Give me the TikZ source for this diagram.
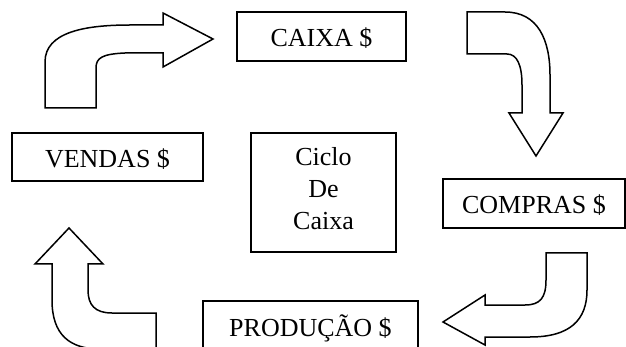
\documentclass[tikz,border=0pt]{standalone}
\usepackage{fontspec}
\setmainfont{Liberation Serif}
\begin{document}
\begin{tikzpicture}[x=1pt,y=-1pt,
  box/.style={draw, line width=1.5pt, font=\fontsize{26}{32}\selectfont, text height=21pt, text depth=0pt, inner sep=0pt},
  bigarrow/.style={draw, line width=1.5pt, fill=white, line join=miter}]
\useasboundingbox (0,0) rectangle (626,347);
\clip (0,0) rectangle (626,347);
% boxes
\node[box, minimum width=169pt, minimum height=49pt] (caixa) at (321.5,36.5) {CAIXA \$};
\node[box, minimum width=191pt, minimum height=48pt] (vendas) at (107.5,157) {VENDAS \$};
\node[box, minimum width=182pt, minimum height=49pt] (compras) at (534,203.5) {COMPRAS \$};
\node[box, minimum width=215pt, minimum height=49pt] (producao) at (310.5,325.5) {PRODUÇÃO \$};
\node[draw, line width=1.5pt, minimum width=145pt, minimum height=119pt, inner sep=0pt] (ciclo) at (323.5,192.5) {};
\node[align=center, inner sep=0pt, font=\fontsize{26}{32}\selectfont] (ciclotxt) at (323.5,189.1) {Ciclo\\De\\Caixa};
% top-left arrow (VENDAS -> CAIXA)
\draw[bigarrow] (45,108) -- (45,62) .. controls (45,32) and (85,25) .. (130,25) -- (163,25)
  -- (163,13) -- (213,39) -- (163,67) -- (163,53) -- (125,53)
  .. controls (102,54) and (96,58) .. (96,68) -- (96,108) -- cycle;
% top-right arrow (CAIXA -> COMPRAS)
\draw[bigarrow] (467,12) -- (505,12) .. controls (538,12) and (550,40) .. (550,75) -- (550,113)
  -- (563,113) -- (536,156) -- (509,113) -- (522,113) -- (522,85)
  .. controls (522,65) and (517,54) .. (507,54) -- (467,54) -- cycle;
% bottom-right arrow (COMPRAS -> PRODUCAO)
\draw[bigarrow] (546,253) -- (546,280) .. controls (546,298) and (540,305) .. (525,305) -- (485,305)
  -- (485,295) -- (443,322) -- (485,345) -- (485,337) -- (530,337)
  .. controls (570,337) and (587,320) .. (587,290) -- (587,253) -- cycle;
% bottom-left arrow (PRODUCAO -> VENDAS)
\draw[bigarrow] (156,360) -- (156,313) -- (112,313) .. controls (95,313) and (88,305) .. (88,290)
  -- (88,264) -- (103,264) -- (69,228) -- (35,264) -- (52,264) -- (52,300)
  .. controls (52,335) and (70,349) .. (100,349) -- (156,349);
\end{tikzpicture}
\end{document}
